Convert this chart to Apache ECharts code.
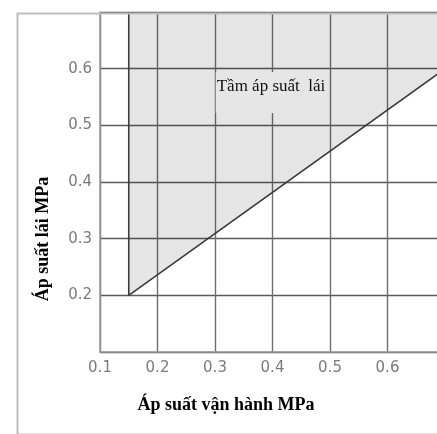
<!DOCTYPE html>
<html>
<head>
<meta charset="utf-8">
<script src="https://cdn.jsdelivr.net/npm/echarts@6/dist/echarts.min.js"></script>
<style>html,body{margin:0;padding:0;background:#fff;}#c{width:437px;height:434px;}</style>
</head>
<body>
<div id="c"></div>
<script>
// Data
const xTicks = [0.1, 0.2, 0.3, 0.4, 0.5, 0.6];
const yTicks = [0.2, 0.3, 0.4, 0.5, 0.6];
const boundaryX = [0.15, 0.15, 0.7];
const boundaryY = [0.7, 0.2, 0.6];
const shadeX = [0.15, 0.7];
const shadeY = [0.2, 0.6];
const regionLabel = 'Tầm áp suất  lái';
const xTitle = 'Áp suất vận hành MPa';
const yTitle = 'Áp suất lái MPa';

const chart = echarts.init(document.getElementById('c'));
const fmt = v => (Math.round(v * 10) / 10).toFixed(1);
chart.setOption({
  animation: false,
  grid: { left: 100, top: 12, width: 345, height: 340, outerBoundsMode: 'none', containLabel: false },
  xAxis: {
    type: 'value', min: 0.1, max: 0.7, interval: 0.1,
    axisLine: { show: true, lineStyle: { color: '#9a9a9a', width: 1.5 } },
    axisTick: { show: false },
    axisLabel: {
      margin: 9, color: '#7a7a7a', fontFamily: 'DejaVu Sans', fontSize: 15,
      formatter: v => xTicks.some(t => Math.abs(t - v) < 1e-6) ? fmt(v) : ''
    },
    splitLine: { show: true, lineStyle: { color: '#6e6e6e', width: 1.4 } }
  },
  yAxis: {
    type: 'value', min: 0.1, max: 0.7, interval: 0.1,
    axisLine: { show: true, lineStyle: { color: '#9a9a9a', width: 1.5 } },
    axisTick: { show: false },
    axisLabel: {
      margin: 8, color: '#7a7a7a', fontFamily: 'DejaVu Sans', fontSize: 15,
      formatter: v => yTicks.some(t => Math.abs(t - v) < 1e-6) ? fmt(v) : ''
    },
    splitLine: { show: true, lineStyle: { color: '#5a5a5a', width: 1.4 } }
  },
  series: [
    {
      type: 'line',
      data: shadeX.map((x, i) => [x, shadeY[i]]),
      symbol: 'none',
      lineStyle: { width: 0 },
      areaStyle: { origin: 'end', color: 'rgba(0,0,0,0.1)', opacity: 1 },
      z: 1
    },
    {
      type: 'line',
      data: boundaryX.map((x, i) => [x, boundaryY[i]]),
      symbol: 'none',
      lineStyle: { color: '#3a3a3a', width: 1.6 },
      z: 3
    }
  ],
  graphic: [
    {
      type: 'rect', left: 15, top: 11, z: 100,
      shape: { x: 0, y: 0, width: 440, height: 421 },
      style: { fill: 'none', stroke: '#bdbdbd', lineWidth: 2 }
    },
    {
      type: 'text', x: 271, y: 72, z: 100,
      style: {
        text: regionLabel, font: '17px "Liberation Serif"', fill: '#111',
        align: 'center', verticalAlign: 'top',
        backgroundColor: '#e6e6e6', padding: [6, 1, 18, 1]
      }
    },
    {
      type: 'text', x: 226, y: 405, z: 100,
      style: { text: xTitle, font: 'bold 18px "Liberation Serif"', fill: '#000', align: 'center', verticalAlign: 'middle' }
    },
    {
      type: 'text', x: 43, y: 239, rotation: Math.PI / 2, z: 100,
      style: { text: yTitle, font: 'bold 18px "Liberation Serif"', fill: '#000', align: 'center', verticalAlign: 'middle' }
    }
  ]
});
</script>
</body>
</html>
